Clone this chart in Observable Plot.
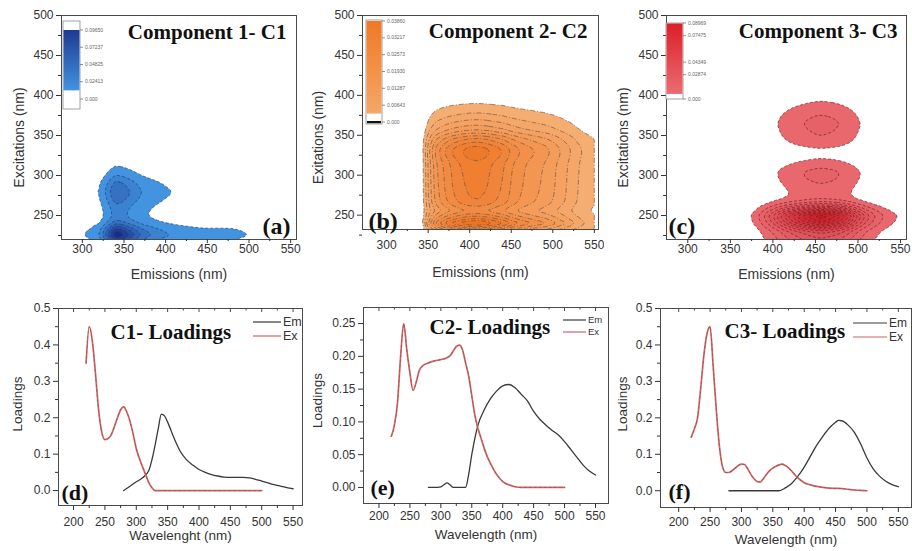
<!DOCTYPE html>
<html><head><meta charset="utf-8">
<script src="https://cdn.jsdelivr.net/npm/d3@7"></script>
<script src="https://cdn.jsdelivr.net/npm/@observablehq/plot@0.6"></script>
<style>
body{margin:0;background:#fff;}
#fig{position:relative;width:912px;height:551px;overflow:hidden;background:#fff;}
</style></head><body><div id="fig"></div>
<script>
// ================= DATA =================
// Component 1 loadings
const c1ExWave = [220,225,230,235,240,245,250,255,260,265,270,275,280,285,290,295,300,305,310,315,320,325,330,350,400,450,500];
const c1ExLoad = [0.35,0.45,0.41,0.32,0.22,0.16,0.14,0.143,0.153,0.175,0.20,0.222,0.23,0.215,0.19,0.155,0.115,0.088,0.065,0.043,0.022,0.008,0,0,0,0,0];
const c1EmWave = [280,290,300,310,320,325,330,335,340,345,350,360,370,380,390,400,410,420,430,440,450,460,470,480,490,500,510,520,530,540,550];
const c1EmLoad = [0,0.012,0.024,0.035,0.055,0.085,0.125,0.17,0.21,0.205,0.188,0.145,0.108,0.085,0.07,0.058,0.05,0.044,0.04,0.037,0.036,0.036,0.036,0.035,0.031,0.026,0.021,0.016,0.012,0.008,0.005];
// Component 2 loadings
const c2ExWave = [220,225,230,235,240,245,250,255,260,265,270,280,290,300,310,315,320,325,330,335,340,345,350,355,360,365,370,375,380,385,390,395,400,410,420,430,450,500];
const c2ExLoad = [0.078,0.095,0.13,0.2,0.25,0.21,0.175,0.148,0.16,0.178,0.185,0.19,0.193,0.195,0.198,0.201,0.208,0.215,0.217,0.21,0.19,0.17,0.14,0.11,0.09,0.075,0.06,0.047,0.037,0.028,0.02,0.014,0.009,0.004,0.001,0,0,0];
const c2EmWave = [280,290,300,305,310,315,320,330,340,345,350,355,360,370,380,390,400,410,420,430,440,450,460,470,480,490,500,510,520,530,540,550];
const c2EmLoad = [0,0,0.001,0.004,0.007,0.004,0,0,0,0.02,0.05,0.075,0.095,0.118,0.135,0.147,0.155,0.157,0.152,0.142,0.132,0.116,0.104,0.095,0.087,0.08,0.07,0.058,0.046,0.034,0.025,0.019];
// Component 3 loadings
const c3ExWave = [220,225,230,235,240,245,250,255,260,265,270,275,280,285,290,295,300,305,310,315,320,325,330,335,340,345,350,355,360,365,370,375,380,385,390,395,400,410,420,430,440,450,460,470,480,490,500];
const c3ExLoad = [0.147,0.17,0.2,0.28,0.37,0.43,0.45,0.34,0.22,0.12,0.065,0.05,0.05,0.055,0.062,0.069,0.073,0.072,0.06,0.045,0.033,0.025,0.024,0.033,0.045,0.055,0.062,0.067,0.071,0.073,0.069,0.063,0.054,0.044,0.035,0.028,0.022,0.016,0.012,0.009,0.007,0.0065,0.006,0.004,0.002,0.001,0];
const c3EmWave = [280,300,320,340,360,370,380,390,400,410,420,430,440,450,455,460,470,480,490,500,510,520,530,540,550];
const c3EmLoad = [0,0,0,0,0,0.008,0.02,0.04,0.065,0.095,0.125,0.15,0.172,0.188,0.193,0.192,0.18,0.16,0.128,0.09,0.06,0.04,0.026,0.017,0.011];

// contour levels and colour-bar labels
const c1Levels = [0.01206,0.02413,0.03619,0.04825,0.06031,0.07237,0.08444];
const c2Levels = [0.00322,0.00643,0.00965,0.01287,0.01608,0.0193,0.02252,0.02573,0.02895,0.03217,0.03538];
const c3Levels = [0.006,0.012,0.018,0.024,0.03,0.036,0.042,0.048,0.054,0.06,0.066,0.072,0.078,0.084];
const c1BarLabels = ["0.09650","0.07237","0.04825","0.02413","0.000"];
const c2BarLabels = ["0.03860","0.03217","0.02573","0.01930","0.01287","0.00643","0.000"];
const c3BarLabels = ["0.08969","0.07475","0.04349","0.02874","0.000"];

// ticks
const eemXTicks = [300,350,400,450,500,550];
const eemXMinor = [325,375,425,475,525];
const eemYTicks = [250,300,350,400,450,500];
const eemYMinor = [225,275,325,375,425,475];
const loadXTicks = [200,250,300,350,400,450,500,550];
const loadXMinor = [225,275,325,375,425,475,525];
const loadYTicksA = [0,0.1,0.2,0.3,0.4,0.5];
const loadYMinorA = [0.05,0.15,0.25,0.35,0.45];
const loadYTicksB = [0,0.05,0.1,0.15,0.2,0.25];
const loadYMinorB = [0.025,0.075,0.125,0.175,0.225];
const legendNames = ["Em","Ex"];

// ================= DRAWING =================
const SANS = "'Liberation Sans', Arial, Helvetica, sans-serif";
const SERIF = "'Liberation Serif', 'Times New Roman', serif";
const fig = document.getElementById("fig");
function place(node, left, top) {
  node.style.position = "absolute"; node.style.left = left + "px"; node.style.top = top + "px";
  fig.appendChild(node);
}
const txt = d => d;

function eemPanel(o) {
  const grid = [];
  o.exW.forEach((w, i) => o.emW.forEach((m, j) => grid.push({em: m, ex: w, v: o.exL[i] * o.emL[j]})));
  const [emMin, emMax] = d3.extent(o.emW), [exMin, exMax] = d3.extent(o.exW);
  return Plot.plot({
    width: o.w, height: o.h, marginLeft: o.ml, marginRight: o.mr, marginTop: o.mt, marginBottom: o.mb,
    style: {fontFamily: SANS, fontSize: "12px", color: "#333", background: "transparent"},
    x: {domain: o.xDomain, label: null},
    y: {domain: o.yDomain, label: null},
    color: {type: "linear", domain: d3.extent(o.levels), range: o.ramp},
    marks: [
      Plot.contour(grid, {x: "em", y: "ex", fill: "v", thresholds: o.levels, interpolate: "barycentric",
        x1: emMin, x2: emMax, y1: exMin, y2: exMax, stroke: o.lineColor, strokeWidth: 0.8,
        strokeDasharray: o.dash, strokeOpacity: 0.85, clip: true}),
      Plot.frame({stroke: "#4a4a4a", strokeWidth: 1}),
      Plot.axisX(eemXTicks, {tickSize: 4, tickPadding: o.xPad, label: null}),
      Plot.axisX(eemXMinor, {tickSize: 2, tickFormat: () => "", label: null}),
      Plot.axisY(eemYTicks, {tickSize: 5, tickPadding: 3, label: null}),
      Plot.axisY(eemYMinor, {tickSize: 3, tickFormat: () => "", label: null}),
      Plot.text([o.title], {text: txt, frameAnchor: "top-right", textAnchor: "end", lineAnchor: "bottom",
        dx: o.titleDx, dy: o.titleDy, fontFamily: SERIF, fontWeight: "bold", fontSize: 21, fill: "#111"}),
      Plot.text([o.tag], {text: txt, frameAnchor: o.tagAnchor, textAnchor: o.tagAnchor.endsWith("right") ? "end" : "start",
        lineAnchor: "bottom", dx: o.tagDx, dy: o.tagDy, fontFamily: SERIF, fontWeight: "bold", fontSize: 24, fill: "#111"}),
      Plot.text([o.xLabel], {text: txt, frameAnchor: "bottom", lineAnchor: "middle", dy: o.xLabDy, fontSize: 14, fill: "#333"}),
      Plot.text([o.yLabel], {text: txt, frameAnchor: "left", textAnchor: "middle", lineAnchor: "middle", rotate: -90,
        dx: o.yLabDx, dy: o.yLabDy, fontSize: 14, fill: "#333"})
    ]
  });
}

function loadPanel(o) {
  const em = o.emW.map((w, i) => ({w, v: o.emL[i]}));
  const ex = o.exW.map((w, i) => ({w, v: o.exL[i]}));
  const innerH = o.h - o.mt - o.mb;
  return Plot.plot({
    width: o.w, height: o.h, marginLeft: o.ml, marginRight: o.mr, marginTop: o.mt, marginBottom: o.mb,
    style: {fontFamily: SANS, fontSize: "12px", color: "#333", background: "transparent"},
    x: {domain: o.xDomain, label: null},
    y: {domain: o.yDomain, label: null},
    marks: [
      Plot.frame({stroke: "#4a4a4a", strokeWidth: 1}),
      Plot.line(em, {x: "w", y: "v", stroke: "#3a3a3a", strokeWidth: 1.3, curve: "monotone-x"}),
      Plot.line(ex, {x: "w", y: "v", stroke: "#cc6464", strokeWidth: 1.7, curve: "monotone-x"}),
      Plot.line(ex, {x: "w", y: "v", stroke: "#5a2020", strokeWidth: 0.6, strokeDasharray: "2,3", strokeOpacity: 0.45, curve: "monotone-x"}),
      Plot.axisX(loadXTicks, {tickSize: 5, tickPadding: o.xPad, label: null}),
      Plot.axisX(loadXMinor, {tickSize: 3, tickFormat: () => "", label: null}),
      Plot.tickX(loadXTicks, {x: txt, insetBottom: innerH - 4, stroke: "#4a4a4a"}),
      Plot.tickX(loadXMinor, {x: txt, insetBottom: innerH - 2.5, stroke: "#4a4a4a"}),
      Plot.axisY(o.yTicks, {tickSize: 5, tickPadding: 3, tickFormat: d3.format(o.yFmt), label: null}),
      Plot.axisY(o.yMinor, {tickSize: 3, tickFormat: () => "", label: null}),
      Plot.text([o.title], {text: txt, frameAnchor: "top-left", textAnchor: "start", lineAnchor: "bottom",
        dx: o.titleDx, dy: o.titleDy, fontFamily: SERIF, fontWeight: "bold", fontSize: 21, fill: "#111"}),
      Plot.text([o.tag], {text: txt, frameAnchor: "bottom-left", textAnchor: "start", lineAnchor: "bottom",
        dx: o.tagDx, dy: o.tagDy, fontFamily: SERIF, fontWeight: "bold", fontSize: 22, fill: "#111"}),
      Plot.text([o.xLabel], {text: txt, frameAnchor: "bottom", lineAnchor: "middle", dy: o.xLabDy, fontSize: 13.5, fill: "#333"}),
      Plot.text(["Loadings"], {text: txt, frameAnchor: "left", textAnchor: "middle", lineAnchor: "middle", rotate: -90,
        dx: o.yLabDx, dy: o.yLabDy, fontSize: 13.5, fill: "#333"})
    ]
  });
}

// ---- top row: EEM contours ----
place(eemPanel({exW: c1ExWave, exL: c1ExLoad, emW: c1EmWave, emL: c1EmLoad, levels: c1Levels,
  ramp: ["#4293e0", "#1a2c86"], lineColor: "#1f3f78", dash: "3,2",
  w: 304, h: 292, ml: 61, mr: 8, mt: 15, mb: 53, xDomain: [275, 557], yDomain: [220, 500], xPad: 1,
  title: "Component 1- C1", titleDx: -10, titleDy: 23, tag: "(a)", tagAnchor: "bottom-right", tagDx: -6, tagDy: -6,
  xLabel: "Emissions (nm)", xLabDy: 35, yLabel: "Excitations (nm)", yLabDx: -42, yLabDy: 10}), 0, 0);

place(eemPanel({exW: c2ExWave, exL: c2ExLoad, emW: c2EmWave, emL: c2EmLoad, levels: c2Levels,
  ramp: ["#f6ad72", "#ee7322"], lineColor: "#6e5440", dash: "5,2,1,2",
  w: 304, h: 292, ml: 62, mr: 6, mt: 15, mb: 63, xDomain: [271, 555], yDomain: [232, 500], xPad: 7,
  title: "Component 2- C2", titleDx: -11, titleDy: 22, tag: "(b)", tagAnchor: "bottom-left", tagDx: 6, tagDy: -1,
  xLabel: "Emissions (nm)", xLabDy: 43, yLabel: "Exitations (nm)", yLabDx: -44, yLabDy: 15}), 300, 0);

place(eemPanel({exW: c3ExWave, exL: c3ExLoad, emW: c3EmWave, emL: c3EmLoad, levels: c3Levels,
  ramp: ["#e9686e", "#c81c27"], lineColor: "#6e1a1e", dash: "3,2",
  w: 307, h: 292, ml: 61, mr: 6, mt: 15, mb: 53, xDomain: [275, 557], yDomain: [220, 500], xPad: 1,
  title: "Component 3- C3", titleDx: -9, titleDy: 22, tag: "(c)", tagAnchor: "bottom-left", tagDx: 2, tagDy: -6,
  xLabel: "Emissions (nm)", xLabDy: 35, yLabel: "Excitations (nm)", yLabDx: -43, yLabDy: 10}), 605, 0);

// ---- bottom row: loadings ----
place(loadPanel({exW: c1ExWave, exL: c1ExLoad, emW: c1EmWave, emL: c1EmLoad,
  w: 304, h: 276, ml: 58, mr: 2, mt: 33, mb: 46, xDomain: [176, 565], yDomain: [-0.041, 0.5], xPad: 7,
  yTicks: loadYTicksA, yMinor: loadYMinorA, yFmt: ".1f",
  title: "C1- Loadings", titleDx: 52, titleDy: 30, tag: "(d)", tagDx: 3, tagDy: -6,
  xLabel: "Wavelenght (nm)", xLabDy: 30, yLabDx: -41, yLabDy: -3}), 0, 275);

place(loadPanel({exW: c2ExWave, exL: c2ExLoad, emW: c2EmWave, emL: c2EmLoad,
  w: 312, h: 276, ml: 63, mr: 4, mt: 32, mb: 48, xDomain: [175, 571], yDomain: [-0.0245, 0.2745], xPad: 3,
  yTicks: loadYTicksB, yMinor: loadYMinorB, yFmt: ".2f",
  title: "C2- Loadings", titleDx: 66, titleDy: 26, tag: "(e)", tagDx: 7, tagDy: -9,
  xLabel: "Wavelength (nm)", xLabDy: 31, yLabDx: -46, yLabDy: -5}), 300, 275);

place(loadPanel({exW: c3ExWave, exL: c3ExLoad, emW: c3EmWave, emL: c3EmLoad,
  w: 307, h: 276, ml: 55, mr: 1, mt: 33, mb: 44, xDomain: [171, 571], yDomain: [-0.046, 0.5], xPad: 5,
  yTicks: loadYTicksA, yMinor: loadYMinorA, yFmt: ".1f",
  title: "C3- Loadings", titleDx: 64, titleDy: 29, tag: "(f)", tagDx: 8, tagDy: -9,
  xLabel: "Wavelength (nm)", xLabDy: 32, yLabDx: -38, yLabDy: -4}), 605, 275);

// ---- overlay: colour bars and legends ----
const ov = d3.create("svg").attr("width", 912).attr("height", 551)
  .style("position", "absolute").style("left", "0px").style("top", "0px").style("pointer-events", "none");
const defs = ov.append("defs");

function colorbar(o) {
  const max = parseFloat(o.labels[0]);
  const s = d3.scaleLinear().domain([0, max]).range([o.yZero, o.yMax]);
  const id = "grad" + o.id;
  const gr = defs.append("linearGradient").attr("id", id).attr("x1", 0).attr("x2", 0).attr("y1", 1).attr("y2", 0);
  gr.append("stop").attr("offset", 0).attr("stop-color", o.ramp[0]);
  gr.append("stop").attr("offset", 1).attr("stop-color", o.ramp[1]);
  const g = ov.append("g");
  g.append("rect").attr("x", o.x).attr("y", o.boxTop).attr("width", o.bw).attr("height", o.boxBottom - o.boxTop)
    .attr("fill", "#fff").attr("stroke", "#8a8a8a").attr("stroke-width", 0.8);
  const top = Math.max(s(max), o.boxTop + 0.5);
  g.append("rect").attr("x", o.x + 0.5).attr("y", top).attr("width", o.bw - 1).attr("height", s(o.levels[0]) - top)
    .attr("fill", `url(#${id})`);
  if (o.zeroBar) g.append("rect").attr("x", o.x + 1).attr("y", s(0) - 1).attr("width", o.bw - 2).attr("height", 2.2).attr("fill", "#111");
  o.labels.forEach(l => {
    const y = s(parseFloat(l));
    g.append("line").attr("x1", o.x + o.bw).attr("x2", o.x + o.bw + 3).attr("y1", y).attr("y2", y).attr("stroke", "#666").attr("stroke-width", 0.7);
    g.append("text").attr("x", o.x + o.bw + 5).attr("y", y).attr("dy", "0.32em").attr("font-family", SANS)
      .attr("font-size", 5).attr("fill", "#666").text(l);
  });
}
colorbar({id: "a", labels: c1BarLabels, levels: c1Levels, ramp: ["#4293e0", "#1d3a92"], x: 63, bw: 17, boxTop: 21, boxBottom: 109, yZero: 99, yMax: 30});
colorbar({id: "b", labels: c2BarLabels, levels: c2Levels, ramp: ["#f5a766", "#ef7926"], x: 366, bw: 16, boxTop: 20, boxBottom: 124, yZero: 122, yMax: 21, zeroBar: true});
colorbar({id: "c", labels: c3BarLabels, levels: c3Levels, ramp: ["#ec6c72", "#dc1f2a"], x: 666, bw: 17, boxTop: 23, boxBottom: 99, yZero: 99, yMax: 23});

function legend(o) {
  const g = ov.append("g");
  const colors = ["#3a3a3a", "#cc6464"];
  legendNames.forEach((n, i) => {
    const y = o.y + i * o.gap;
    g.append("line").attr("x1", o.x1).attr("x2", o.x2).attr("y1", y).attr("y2", y).attr("stroke", colors[i]).attr("stroke-width", 1.2);
    g.append("text").attr("x", o.x2 + 2).attr("y", y).attr("dy", "0.32em").attr("font-family", SANS)
      .attr("font-size", o.fs).attr("fill", "#333").text(n);
  });
}
legend({x1: 253, x2: 281, y: 322, gap: 14, fs: 12.5});
legend({x1: 563, x2: 586, y: 320, gap: 12, fs: 9.5});
legend({x1: 853, x2: 887, y: 323, gap: 14, fs: 12});

fig.appendChild(ov.node());
</script></body></html>
